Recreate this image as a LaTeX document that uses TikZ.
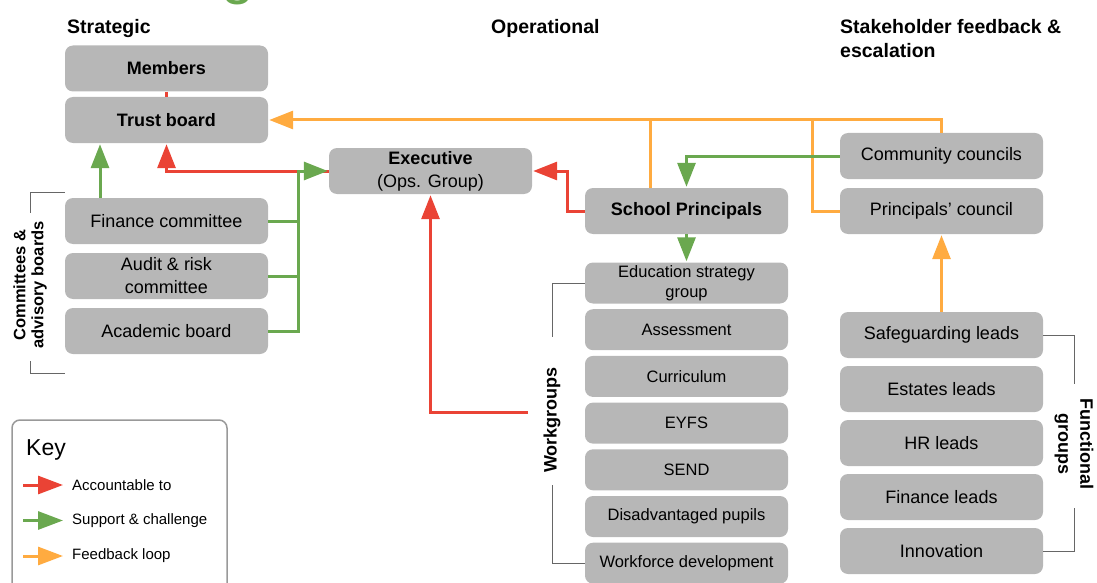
\documentclass[tikz,border=0pt]{standalone}
\usepackage{fontspec}
\setmainfont{Liberation Sans}
\usepackage{tikz}
\usetikzlibrary{arrows.meta,positioning}

\definecolor{boxgray}{HTML}{B7B7B7}
\definecolor{accred}{HTML}{EA4335}
\definecolor{supgreen}{HTML}{6AA84F}
\definecolor{fborange}{HTML}{FFAB40}
\definecolor{brgray}{HTML}{666666}
\definecolor{keygray}{HTML}{999999}

\newcommand{\bigf}{\fontsize{18}{23}\selectfont}
\newcommand{\smallf}{\fontsize{16.5}{20}\selectfont}
\newcommand{\headf}{\fontsize{19.5}{24}\selectfont\bfseries}
\newcommand{\keyf}{\fontsize{15}{18}\selectfont}

\begin{document}
\begin{tikzpicture}[x=1pt,y=-1pt,on grid,node distance=55pt,
  box/.style={rectangle,rounded corners=8pt,fill=boxgray,minimum width=203pt,minimum height=46pt,inner sep=0pt,align=center,font=\bigf},
  wgbox/.style={box,minimum height=41pt,font=\smallf},
  headtxt/.style={anchor=north west,inner sep=0pt,font=\headf,align=left},
  sidelabel/.style={inner sep=0pt,align=center},
  bracket/.style={draw=brgray,line width=1pt},
  arrowhd/.style={-{Triangle[length=24pt,width=18pt]},shorten >=1pt},
  keytip/.style={-{Triangle[length=25pt,width=18pt]}},
  account/.style={draw=accred,line width=3pt},
  support/.style={draw=supgreen,line width=3pt},
  feedback/.style={draw=fborange,line width=3pt},
  keytxt/.style={anchor=west,inner sep=0pt,font=\keyf}]
  \useasboundingbox (0,0) rectangle (1097,583);

  % title, cut off by the page edge
  \node[anchor=base west,inner sep=0pt,text=supgreen,font=\fontsize{60}{60}\selectfont] (title) at (70,-7) {Trust governance structure};

  \node[headtxt]	(hstr)	at (67,19)	{Strategic};
  \node[headtxt]	(hops)	at (491,19)	{Operational};
  \node[headtxt]	(hstk)	at (840,19)	{Stakeholder feedback \&\\escalation};

  % strategic column
  \node[box,font=\bigf\bfseries]	(mem)	at (166.5,68.5)		{Members};
  \node[box,font=\bigf\bfseries]	(tb)	[below=51.5pt of mem]	{Trust board};
  \node[box]	(fin)	at (166.5,221)	{Finance committee};
  \node[box]	(aud)	[below=of fin]	{Audit \& risk\\committee};
  \node[box]	(acad)	[below=of aud]	{Academic board};
  \node[sidelabel,rotate=90,font=\fontsize{16.5}{18}\selectfont\bfseries]	(com)	at (30,285)	{Committees \&\\advisory boards};

  % operational column
  \node[box]	(exe)	at (430.5,171)	{\textbf{Executive}\\(Ops. Group)};
  \node[box,font=\bigf\bfseries]	(sp)	at (686.5,211)	{School Principals};
  \node[wgbox]	(esg)	at (686.5,283)	{Education strategy\\group};
  \node[wgbox]	(asm)	[below=46.7pt of esg]	{Assessment};
  \node[wgbox]	(cur)	[below=46.7pt of asm]	{Curriculum};
  \node[wgbox]	(eyfs)	[below=46.7pt of cur]	{EYFS};
  \node[wgbox]	(send)	[below=46.7pt of eyfs]	{SEND};
  \node[wgbox]	(dis)	[below=46.7pt of send]	{Disadvantaged pupils};
  \node[wgbox]	(wfd)	[below=46.7pt of dis]	{Workforce development};
  \node[sidelabel,rotate=90,font=\fontsize{18}{20}\selectfont\bfseries]	(wg)	at (552,420)	{Workgroups};

  % stakeholder column
  \node[box]	(cc)	at (941.5,156)	{Community councils};
  \node[box]	(pc)	[below=of cc]	{Principals' council};
  \node[box]	(safe)	at (941.5,335)	{Safeguarding leads};
  \node[box]	(est)	[below=54pt of safe]	{Estates leads};
  \node[box]	(hr)	[below=54pt of est]	{HR leads};
  \node[box]	(finl)	[below=54pt of hr]	{Finance leads};
  \node[box]	(inn)	[below=54pt of finl]	{Innovation};
  \node[sidelabel,rotate=-90,font=\fontsize{18}{22}\selectfont\bfseries]	(fg)	at (1074,443.5)	{Functional\\groups};

  % brackets
  \draw[bracket] ([yshift=5pt]fin.north west) -| ([yshift=8pt]com.east);
  \draw[bracket] ([yshift=-19pt]acad.south west) -| ([yshift=-12pt]com.west);
  \draw[bracket] (esg.west) -| ([yshift=30pt]wg.east);
  \draw[bracket] (wfd.west) -| ([yshift=-12pt]wg.west);
  \draw[bracket] (safe.east) -| ([yshift=14pt]fg.west);
  \draw[bracket] (inn.east) -| ([yshift=-19pt]fg.east);

  % feedback loop
  \draw[feedback,arrowhd] (cc.north) |- (tb.east);
  \draw[feedback] ([xshift=-36.5pt]sp.north) -- ([xshift=-36.5pt]sp.north |- tb.east);
  \draw[feedback] (pc.west) -| ([xshift=-27pt]pc.west |- tb.east);
  \draw[feedback,arrowhd] (safe.north) -- (pc.south);

  % accountable to
  \coordinate (wgin) at (528,412);
  \coordinate (hub) at ([xshift=-30pt]exe.west);
  \draw[account] (mem.south) -- (tb.north);
  \draw[account,arrowhd] (exe.west) -| (tb.south);
  \draw[account,arrowhd] (sp.west) -- ++(-17,0) |- (exe.east);
  \draw[account,arrowhd] (wgin) -| (exe.south);

  % support & challenge
  \draw[support,arrowhd] ([xshift=-66.5pt]fin.north) -- ([xshift=-66.5pt]tb.south);
  \draw[support] (fin.east) -- (fin.east -| hub);
  \draw[support] (aud.east) -- (aud.east -| hub);
  \draw[support,arrowhd] (acad.east) -| (hub) -- (exe.west);
  \draw[support,arrowhd] (cc.west) -| (sp.north);
  \draw[support,arrowhd] (sp.south) -- (esg.north);

  % key
  \draw[draw=keygray,line width=1.5pt,rounded corners=8pt] (12,420) rectangle (227,600);
  \node[anchor=west,inner sep=0pt,font=\fontsize{23}{25}\selectfont] (key) at (26,450) {Key};
  \coordinate (k1) at (23,485);
  \coordinate (k2) at (23,520.5);
  \coordinate (k3) at (23,556);
  \draw[account,keytip] (k1) -- ++(40,0);
  \draw[support,keytip] (k2) -- ++(40,0);
  \draw[feedback,keytip] (k3) -- ++(40,0);
  \node[keytxt] (k1t) at (72,485)   {Accountable to};
  \node[keytxt] (k2t) at (72,520.5) {Support \& challenge};
  \node[keytxt] (k3t) at (72,556)   {Feedback loop};
\end{tikzpicture}
\end{document}
